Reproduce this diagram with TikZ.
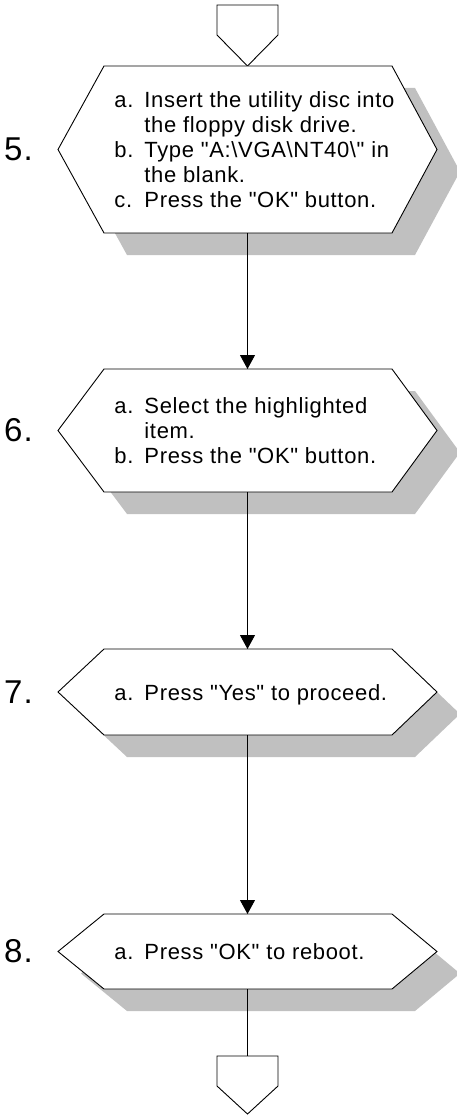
\documentclass[tikz,border=0pt]{standalone}
\usepackage{fontspec}
\setmainfont{Liberation Sans}[LetterSpace=3, Ligatures=TeXOff]
\usetikzlibrary{arrows.meta}
\definecolor{shadowgray}{RGB}{192,192,192}

\begin{document}
\begin{tikzpicture}[x=1pt, y=-1pt, line width=0.9pt,
    hexa/.style={draw=black, fill=white, line join=miter},
    hexshadow/.style={fill=shadowgray, shift={(23,22)}},
    steptext/.style={anchor=west, inner sep=0pt, yshift=-3pt,
      font=\fontsize{22}{25}\selectfont},
    stepnum/.style={inner sep=0pt, font=\fontsize{33}{36}\selectfont},
    flow/.style={-{Triangle[length=14pt,width=15pt]}}]
  \useasboundingbox (0,0) rectangle (456,1115);

  % tops and bottoms of the four steps
  \coordinate (T5) at (247.5,66);  \coordinate (B5) at (247.5,233);
  \coordinate (T6) at (247.5,369); \coordinate (B6) at (247.5,492);
  \coordinate (T7) at (247.5,649); \coordinate (B7) at (247.5,735);
  \coordinate (T8) at (247.5,914); \coordinate (B8) at (247.5,989);
  \coordinate (out) at (247.5,1056);

  % off-page connectors
  \draw[hexa] (217,5) -- (278,5) -- (278,35) -- (T5) -- (217,35) -- cycle;
  \draw[hexa] (217,1056) -- (278,1056) -- (278,1086) -- (247.5,1114) -- (217,1086) -- cycle;

  % step 5
  \fill[hexshadow] (58,149.5) -- (104,66) -- (392,66) -- (437,149.5) -- (392,233) -- (104,233) -- cycle;
  \draw[hexa] (58,149.5) -- (104,66) -- (392,66) -- (437,149.5) -- (392,233) -- (104,233) -- cycle;
  \node[stepnum] (num5) at (18.5,149.5) {5.};
  \node[steptext] (txt5) at (114,149.5) {%
    \begin{tabular}{@{}p{30pt}@{}l@{}}
      a. & Insert the utility disc into\\
         & the floppy disk drive.\\
      b. & Type "A:\textbackslash VGA\textbackslash NT40\textbackslash" in\\
         & the blank.\\
      c. & Press the "OK" button.
    \end{tabular}};

  % step 6
  \fill[hexshadow] (58,430.5) -- (104,369) -- (392,369) -- (437,430.5) -- (392,492) -- (104,492) -- cycle;
  \draw[hexa] (58,430.5) -- (104,369) -- (392,369) -- (437,430.5) -- (392,492) -- (104,492) -- cycle;
  \node[stepnum] (num6) at (18.5,430.5) {6.};
  \node[steptext] (txt6) at (114,430.5) {%
    \begin{tabular}{@{}p{30pt}@{}l@{}}
      a. & Select the highlighted\\
         & item.\\
      b. & Press the "OK" button.
    \end{tabular}};

  % step 7
  \fill[hexshadow] (58,692) -- (104,649) -- (392,649) -- (437,692) -- (392,735) -- (104,735) -- cycle;
  \draw[hexa] (58,692) -- (104,649) -- (392,649) -- (437,692) -- (392,735) -- (104,735) -- cycle;
  \node[stepnum] (num7) at (18.5,692) {7.};
  \node[steptext] (txt7) at (114,692) {%
    \begin{tabular}{@{}p{30pt}@{}l@{}}
      a. & Press "Yes" to proceed.
    \end{tabular}};

  % step 8
  \fill[hexshadow] (58,951.5) -- (104,914) -- (392,914) -- (437,951.5) -- (392,989) -- (104,989) -- cycle;
  \draw[hexa] (58,951.5) -- (104,914) -- (392,914) -- (437,951.5) -- (392,989) -- (104,989) -- cycle;
  \node[stepnum] (num8) at (18.5,951.5) {8.};
  \node[steptext] (txt8) at (114,951.5) {%
    \begin{tabular}{@{}p{30pt}@{}l@{}}
      a. & Press "OK" to reboot.
    \end{tabular}};

  % connectors
  \draw[flow] (B5) -- (T6);
  \draw[flow] (B6) -- (T7);
  \draw[flow] (B7) -- (T8);
  \draw (B8) -- (out);
\end{tikzpicture}
\end{document}
